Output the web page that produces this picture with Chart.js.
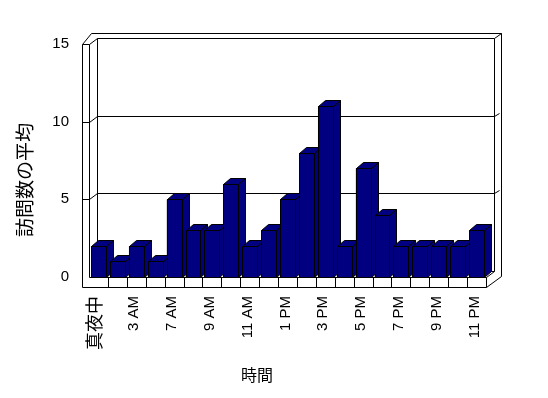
<!DOCTYPE html>
<html>
<head>
<meta charset="utf-8">
<script src="https://cdn.jsdelivr.net/npm/chart.js@4.4.1/dist/chart.umd.min.js"></script>
<style>
body{margin:0;background:#fff}
</style>
</head>
<body>
<canvas id="myChart" width="548" height="398"></canvas>
<script>
const hours = ['真夜中','1 AM','3 AM','5 AM','7 AM','8 AM','9 AM','10 AM','11 AM','正午','1 PM','2 PM','3 PM','4 PM','5 PM','6 PM','7 PM','8 PM','9 PM','10 PM','11 PM'];
const visits = [2,1,2,1,5,3,3,6,2,3,5,8,11,2,7,4,2,2,2,2,3];
const yTicks = [0,5,10,15];
const xTitle = '時間';
const yTitle = '訪問数の平均';

const FONT = "'Liberation Sans', 'Noto Sans CJK JP', sans-serif";
const navy = '#000080';
const depth = {x: 7, y: -6};    // bar depth
const wallIn = {x: 8, y: -6};   // back wall, inner face
const wallOut = {x: 15, y: -11};
const wallW = 7;
const floorH = 10;

const px = v => Math.round(v) + 0.5;

function line(ctx, pts) {
    ctx.beginPath();
    pts.forEach((p, i) => i ? ctx.lineTo(px(p[0]), px(p[1])) : ctx.moveTo(px(p[0]), px(p[1])));
    ctx.stroke();
}
function poly(ctx, pts) {
    ctx.beginPath();
    pts.forEach((p, i) => i ? ctx.lineTo(px(p[0]), px(p[1])) : ctx.moveTo(px(p[0]), px(p[1])));
    ctx.closePath();
    ctx.fill();
    ctx.stroke();
}

// walls, floor and gridlines
const box3d = {
    id: 'box3d',
    beforeDatasetsDraw(chart) {
        const ctx = chart.ctx, ca = chart.chartArea;
        const xs = chart.scales.x, ys = chart.scales.y;
        const L = ca.left, R = ca.right, T = ca.top, B = ca.bottom;
        const L0 = L - wallW, B1 = B + floorH;
        ctx.save();
        ctx.strokeStyle = '#000';
        ctx.lineWidth = 1;
        // left wall
        line(ctx, [[L0, T], [L0, B1]]);
        line(ctx, [[L, T], [L, B]]);
        line(ctx, [[L0, T], [L, T]]);
        line(ctx, [[L0, T], [L0 + 9, T + wallOut.y], [R + wallOut.x, T + wallOut.y], [R + wallOut.x, B1 + wallOut.y]]);
        line(ctx, [[L, T], [L + wallIn.x, T + wallIn.y], [R + wallIn.x, T + wallIn.y], [R + wallIn.x, B + wallIn.y]]);
        line(ctx, [[R + wallIn.x, T + wallIn.y], [R + wallOut.x, T + wallOut.y]]);
        line(ctx, [[L + wallIn.x, T + wallIn.y], [L + wallIn.x, B + wallIn.y], [R + wallIn.x, B + wallIn.y]]);
        // gridlines
        yTicks.filter(v => v > 0 && v < ys.max).forEach(v => {
            const y = ys.getPixelForValue(v);
            line(ctx, [[L0, y], [L, y], [L + wallIn.x, y + wallIn.y], [R + wallIn.x, y + wallIn.y], [R + wallOut.x - 2, y + wallOut.y + 2]]);
        });
        // floor
        line(ctx, [[L, B], [R, B], [R, B1]]);
        line(ctx, [[L0, B1], [R, B1], [R + wallOut.x, B1 + wallOut.y]]);
        line(ctx, [[R, B], [R + wallIn.x, B + wallIn.y]]);
        for (let i = 1; i < hours.length; i++) {
            const x = xs.getPixelForValue(i - 0.5);
            line(ctx, [[x, B], [x, B1]]);
        }
        ctx.restore();
    }
};

// 3d faces of the bars
const bars3d = {
    id: 'bars3d',
    afterDatasetsDraw(chart) {
        const ctx = chart.ctx;
        const meta = chart.getDatasetMeta(0);
        ctx.save();
        ctx.strokeStyle = '#000';
        ctx.fillStyle = navy;
        ctx.lineWidth = 1;
        meta.data.forEach(bar => {
            const p = bar.getProps(['x', 'y', 'base', 'width'], true);
            const l = p.x - p.width / 2, r = p.x + p.width / 2;
            poly(ctx, [[r, p.y], [r + depth.x, p.y + depth.y], [r + depth.x, p.base + depth.y], [r, p.base]]);
            poly(ctx, [[l, p.y], [r, p.y], [r + depth.x, p.y + depth.y], [l + depth.x, p.y + depth.y]]);
            poly(ctx, [[l, p.y], [r, p.y], [r, p.base], [l, p.base]]);
        });
        ctx.restore();
    }
};

const titles = {
    id: 'titles',
    afterDraw(chart) {
        const ctx = chart.ctx;
        ctx.save();
        ctx.fillStyle = '#000';
        ctx.textAlign = 'center';
        ctx.textBaseline = 'middle';
        ctx.font = '16px ' + FONT;
        ctx.fillText(xTitle, 257, 377);
        ctx.translate(27, 180);
        ctx.rotate(-Math.PI / 2);
        ctx.font = '19px ' + FONT;
        ctx.fillText(yTitle, 0, 0);
        ctx.restore();
    }
};

const ctx = document.getElementById('myChart').getContext('2d');
const myChart = new Chart(ctx, {
    type: 'bar',
    data: {
        labels: hours,
        datasets: [{
            label: yTitle,
            data: visits,
            backgroundColor: navy,
            borderColor: '#000',
            borderWidth: 1,
            barPercentage: 0.79,
            categoryPercentage: 1
        }]
    },
    options: {
        responsive: false,
        animation: false,
        layout: {padding: {top: 44, right: 62, left: 0, bottom: 0}},
        plugins: {legend: {display: false}, tooltip: {enabled: false}},
        scales: {
            x: {
                offset: true,
                grid: {display: false, drawTicks: false},
                border: {display: false},
                ticks: {
                    autoSkip: false,
                    minRotation: 90,
                    maxRotation: 90,
                    padding: 19,
                    labelOffset: -2,
                    color: '#000',
                    font: c => ({family: FONT, size: c.index === 0 ? 18 : 15}),
                    callback: (v, i) => i % 2 === 0 ? hours[i] : ''
                },
                afterFit: s => { s.height = 121; }
            },
            y: {
                min: 0,
                max: 15,
                grid: {display: false, drawTicks: false},
                border: {display: false},
                ticks: {stepSize: 5, padding: 20, color: '#000', font: {family: FONT, size: 15}},
                afterFit: s => { s.width = 89; }
            }
        }
    },
    plugins: [box3d, bars3d, titles]
});
</script>
</body>
</html>
